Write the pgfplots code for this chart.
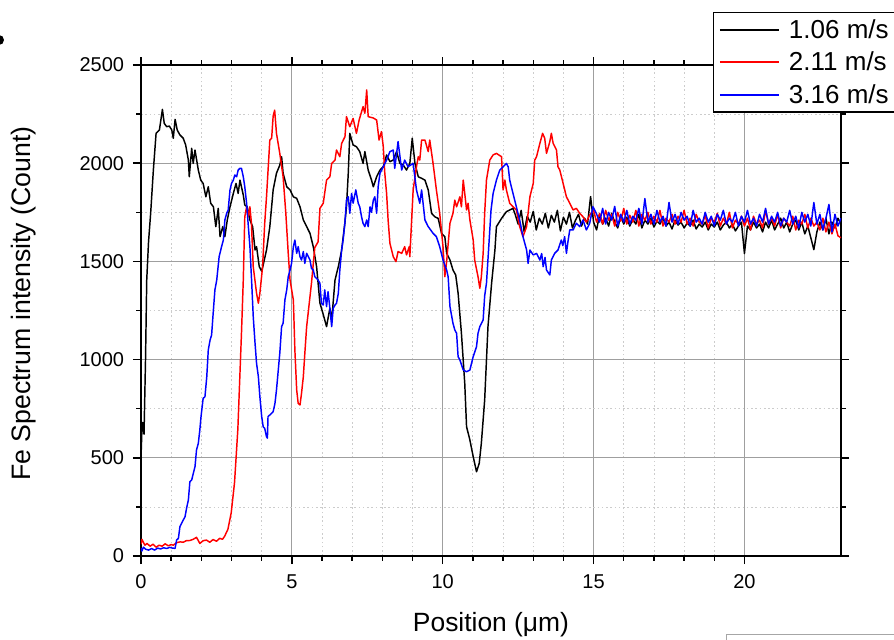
\documentclass[border=0pt]{standalone}
\usepackage{pgfplots}
\pgfplotsset{compat=1.18}
\usepackage{pgfplotstable}
\usepackage{fontspec}
\setmainfont{Liberation Sans}

% Fe line-scan profiles for three scanning speeds
\pgfplotstableread{
x y
0.00 500
0.03 640
0.06 680
0.10 620
0.15 1000
0.19 1405
0.25 1600
0.32 1745
0.41 1965
0.50 2152
0.61 2169
0.71 2274
0.77 2203
0.85 2186
0.94 2189
1.02 2169
1.07 2127
1.13 2223
1.20 2169
1.29 2144
1.40 2127
1.48 2093
1.57 2016
1.60 1931
1.68 2076
1.73 1999
1.79 2067
1.90 1965
1.98 1914
2.06 1897
2.15 1829
2.23 1880
2.31 1796
2.40 1778
2.48 1677
2.56 1770
2.62 1626
2.71 1677
2.78 1626
2.86 1711
2.95 1778
3.06 1846
3.15 1897
3.22 1846
3.28 1914
3.39 1838
3.44 1787
3.52 1778
3.61 1711
3.70 1677
3.78 1558
3.83 1575
3.92 1473
4.00 1450
4.05 1482
4.16 1558
4.27 1677
4.38 1864
4.49 1949
4.60 1990
4.66 2033
4.71 1949
4.83 1880
4.94 1864
5.05 1829
5.16 1821
5.27 1778
5.38 1711
5.49 1677
5.60 1643
5.71 1575
5.82 1473
5.93 1288
6.04 1230
6.15 1168
6.26 1262
6.32 1200
6.43 1405
6.55 1480
6.65 1558
6.76 1700
6.81 1778
6.87 1950
6.92 2152
7.03 2093
7.14 2084
7.25 2059
7.36 1999
7.42 2059
7.53 1965
7.64 1914
7.70 1880
7.81 1931
7.92 1965
8.03 1982
8.14 2042
8.25 2008
8.36 2016
8.47 2059
8.58 1999
8.69 1991
8.80 1965
8.91 1999
8.99 2127
9.08 1999
9.19 1931
9.30 1923
9.41 1914
9.52 1864
9.63 1745
9.74 1727
9.85 1719
9.96 1643
10.07 1626
10.13 1541
10.24 1507
10.34 1456
10.43 1431
10.51 1338
10.62 1134
10.73 879
10.79 658
10.90 591
11.01 506
11.12 429
11.21 472
11.28 574
11.39 794
11.50 1168
11.62 1389
11.73 1558
11.78 1677
11.95 1719
12.11 1753
12.33 1770
12.4 1740
12.5 1690
12.6 1760
12.7 1650
12.8 1730
12.9 1700
13.0 1755
13.1 1660
13.2 1720
13.3 1690
13.4 1745
13.5 1670
13.6 1735
13.7 1700
13.8 1760
13.9 1655
14.0 1725
14.1 1690
14.2 1750
14.3 1670
14.4 1710
14.5 1740
14.6 1680
14.7 1720
14.8 1690
14.9 1830
15.0 1700
15.1 1660
15.2 1740
15.3 1690
15.4 1720
15.5 1680
15.6 1745
15.7 1700
15.8 1670
15.9 1730
16.0 1690
16.1 1725
16.2 1680
16.3 1715
16.4 1690
16.5 1740
16.6 1670
16.7 1710
16.8 1690
16.9 1720
17.0 1675
17.1 1705
17.2 1690
17.3 1720
17.4 1680
17.5 1700
17.6 1665
17.7 1710
17.8 1685
17.9 1700
18.0 1670
18.1 1695
18.2 1680
18.3 1710
18.4 1665
18.5 1690
18.6 1675
18.7 1700
18.8 1660
18.9 1690
19.0 1675
19.1 1700
19.2 1660
19.3 1685
19.4 1700
19.5 1670
19.6 1690
19.7 1655
19.8 1680
19.9 1700
20.0 1540
20.1 1680
20.2 1660
20.3 1700
20.4 1670
20.5 1690
20.6 1650
20.7 1700
20.8 1670
20.9 1710
21.0 1660
21.1 1690
21.2 1720
21.3 1670
21.4 1700
21.5 1650
21.6 1690
21.7 1710
21.8 1660
21.9 1700
22.0 1640
22.1 1680
22.2 1620
22.3 1560
22.4 1650
22.5 1700
22.6 1660
22.7 1720
22.8 1640
22.9 1700
23.0 1670
23.1 1720
23.2 1690
}\speedA

\pgfplotstableread{
x y
0.00 60
0.03 85
0.08 70
0.13 55
0.20 64
0.30 50
0.40 60
0.50 45
0.60 55
0.70 50
0.80 62
0.90 52
1.00 58
1.07 55
1.18 68
1.30 72
1.40 70
1.50 78
1.62 79
1.73 85
1.84 95
1.95 64
2.06 78
2.17 81
2.28 70
2.39 84
2.50 75
2.61 90
2.70 85
2.77 100
2.88 136
2.99 220
3.10 374
3.21 645
3.33 1134
3.39 1405
3.44 1727
3.50 1778
3.55 1727
3.61 1778
3.66 1694
3.72 1473
3.83 1338
3.89 1287
3.94 1338
4.03 1473
4.10 1694
4.16 1829
4.27 2118
4.33 2127
4.38 2240
4.43 2270
4.49 2152
4.60 2050
4.71 1931
4.80 1745
4.88 1541
4.94 1405
5.05 1303
5.10 1049
5.16 845
5.21 777
5.27 769
5.32 828
5.38 913
5.43 1032
5.49 1168
5.54 1236
5.65 1389
5.76 1570
5.87 1600
5.93 1770
6.04 1796
6.15 1914
6.26 1931
6.32 1999
6.43 2016
6.48 2067
6.59 2033
6.65 2101
6.76 2135
6.81 2237
6.92 2186
7.03 2228
7.14 2152
7.23 2220
7.36 2288
7.42 2254
7.48 2373
7.53 2237
7.70 2230
7.81 2220
7.89 2118
7.97 2161
8.03 2084
8.08 1949
8.14 1846
8.19 1711
8.25 1592
8.36 1524
8.45 1499
8.52 1550
8.64 1541
8.74 1575
8.80 1533
8.89 1575
8.91 1524
8.97 1711
9.02 1864
9.13 1982
9.19 2033
9.24 2016
9.30 2118
9.41 2118
9.52 2059
9.57 2118
9.68 1999
9.79 1864
9.90 1745
10.01 1575
10.07 1422
10.13 1500
10.24 1694
10.34 1745
10.40 1812
10.46 1778
10.57 1829
10.62 1778
10.68 1914
10.73 1846
10.79 1762
10.84 1796
10.90 1711
11.01 1609
11.06 1507
11.17 1422
11.23 1363
11.28 1422
11.34 1541
11.39 1745
11.45 1914
11.56 2016
11.67 2042
11.78 2050
11.95 2033
12.00 1864
12.06 1914
12.11 1864
12.22 1796
12.33 1778
12.44 1762
12.55 1677
12.66 1626
12.78 1677
12.89 1829
13.00 1897
13.05 2016
13.11 2033
13.22 2101
13.31 2152
13.38 2127
13.44 2050
13.55 2110
13.60 2152
13.66 2101
13.77 2067
13.82 1982
13.88 1965
13.99 1897
14.10 1829
14.21 1796
14.32 1762
14.43 1770
14.54 1745
14.65 1727
14.76 1700
14.87 1736
15.0 1760
15.1 1700
15.2 1745
15.3 1690
15.4 1760
15.5 1710
15.6 1740
15.7 1680
15.8 1750
15.9 1705
16.0 1770
16.1 1690
16.2 1735
16.3 1700
16.4 1760
16.5 1680
16.6 1740
16.7 1710
16.8 1750
16.9 1690
17.0 1730
17.1 1700
17.2 1760
17.3 1680
17.4 1720
17.5 1700
17.6 1740
17.7 1690
17.8 1730
17.9 1700
18.0 1760
18.1 1690
18.2 1720
18.3 1680
18.4 1740
18.5 1700
18.6 1690
18.7 1735
18.8 1670
18.9 1720
19.0 1700
19.1 1745
19.2 1680
19.3 1720
19.4 1690
19.5 1750
19.6 1670
19.7 1710
19.8 1690
19.9 1730
20.0 1680
20.1 1720
20.2 1660
20.3 1730
20.4 1690
20.5 1710
20.6 1670
20.7 1760
20.8 1690
20.9 1720
21.0 1680
21.1 1740
21.2 1670
21.3 1720
21.4 1700
21.5 1680
21.6 1730
21.7 1660
21.8 1710
21.9 1690
22.0 1740
22.1 1670
22.2 1720
22.3 1680
22.4 1700
22.5 1660
22.6 1720
22.7 1650
22.8 1700
22.9 1640
23.0 1690
23.1 1630
23.2 1620
}\speedB

\pgfplotstableread{
x y
0.00 40
0.03 25
0.08 45
0.15 35
0.25 30
0.35 38
0.45 30
0.55 40
0.65 36
0.75 42
0.85 38
0.95 44
1.05 40
1.13 39
1.18 81
1.24 90
1.29 149
1.40 183
1.46 200
1.51 243
1.57 285
1.62 378
1.68 387
1.79 455
1.84 540
1.90 574
1.95 642
1.99 710
2.06 803
2.12 811
2.18 913
2.23 1049
2.29 1100
2.34 1125
2.40 1253
2.45 1355
2.51 1405
2.59 1524
2.67 1575
2.73 1609
2.78 1711
2.84 1745
2.89 1762
2.95 1864
3.00 1897
3.06 1914
3.11 1940
3.17 1931
3.22 1965
3.28 1974
3.33 1974
3.39 1931
3.44 1880
3.50 1796
3.55 1694
3.61 1575
3.67 1389
3.72 1219
3.78 1083
3.83 981
3.89 913
3.94 811
4.00 710
4.05 658
4.10 650
4.16 607
4.19 600
4.21 710
4.27 718
4.38 735
4.44 777
4.49 845
4.55 947
4.60 1032
4.66 1168
4.71 1185
4.77 1304
4.83 1355
4.88 1422
4.94 1456
4.99 1490
5.05 1575
5.10 1609
5.16 1541
5.21 1575
5.27 1524
5.32 1507
5.38 1550
5.43 1490
5.49 1541
5.60 1507
5.65 1465
5.71 1456
5.76 1422
5.87 1405
5.93 1389
5.98 1287
6.04 1278
6.09 1355
6.15 1270
6.20 1346
6.26 1261
6.32 1168
6.37 1261
6.43 1278
6.48 1287
6.54 1338
6.59 1456
6.65 1558
6.70 1610
6.76 1700
6.81 1812
6.87 1829
6.92 1745
6.98 1846
7.03 1796
7.12 1864
7.20 1796
7.25 1778
7.31 1727
7.36 1694
7.42 1677
7.48 1711
7.53 1677
7.59 1778
7.64 1750
7.70 1812
7.75 1829
7.81 1745
7.86 1880
7.92 1949
8.03 1982
8.14 2016
8.25 2059
8.36 2067
8.41 1974
8.52 2110
8.64 1965
8.74 2016
8.85 1982
9.02 1999
9.13 1864
9.24 1796
9.30 1864
9.41 1711
9.52 1677
9.68 1643
9.79 1626
9.90 1575
10.01 1507
10.13 1456
10.18 1422
10.24 1270
10.34 1185
10.40 1151
10.46 1134
10.51 1015
10.57 998
10.68 947
10.79 938
10.90 947
11.01 1015
11.12 1066
11.17 1134
11.23 1168
11.34 1202
11.39 1324
11.45 1389
11.52 1560
11.60 1760
11.67 1846
11.78 1914
11.89 1965
12.00 1982
12.11 1999
12.17 1982
12.22 1914
12.33 1846
12.44 1778
12.55 1711
12.66 1626
12.78 1558
12.83 1490
12.89 1558
13.00 1533
13.11 1541
13.22 1507
13.28 1540
13.33 1473
13.39 1520
13.44 1456
13.55 1431
13.60 1507
13.71 1541
13.82 1558
13.93 1609
13.98 1580
14.04 1626
14.10 1541
14.15 1600
14.21 1660
14.32 1660
14.43 1694
14.54 1677
14.65 1711
14.76 1660
14.87 1694
14.98 1778
15.09 1745
15.2 1700
15.3 1770
15.4 1690
15.5 1750
15.6 1710
15.7 1780
15.8 1680
15.9 1740
16.0 1700
16.1 1760
16.2 1690
16.3 1730
16.4 1710
16.5 1770
16.6 1690
16.7 1820
16.8 1700
16.9 1740
17.0 1690
17.1 1760
17.2 1700
17.3 1730
17.4 1680
17.5 1800
17.6 1700
17.7 1740
17.8 1690
17.9 1750
18.0 1710
18.1 1730
18.2 1680
18.3 1760
18.4 1700
18.5 1720
18.6 1690
18.7 1750
18.8 1700
18.9 1730
19.0 1680
19.1 1740
19.2 1710
19.3 1760
19.4 1690
19.5 1720
19.6 1700
19.7 1750
19.8 1680
19.9 1730
20.0 1700
20.1 1760
20.2 1690
20.3 1720
20.4 1680
20.5 1740
20.6 1700
20.7 1770
20.8 1690
20.9 1730
21.0 1700
21.1 1750
21.2 1680
21.3 1720
21.4 1700
21.5 1760
21.6 1690
21.7 1730
21.8 1670
21.9 1750
22.0 1700
22.1 1740
22.2 1680
22.3 1800
22.4 1690
22.5 1740
22.6 1660
22.7 1720
22.8 1790
22.9 1650
23.0 1740
23.1 1680
23.2 1720
}\speedC

\begin{document}
\begin{tikzpicture}[x=0.75pt,y=0.75pt]
% page frame (units: 0.75pt)
\useasboundingbox (-141,-84) rectangle (753,556);
\begin{axis}[
  at={(0,0)}, anchor=south west,
  scale only axis,
  width=525pt, height=368.25pt,
  xmin=0, xmax=23.2,
  ymin=0, ymax=2500,
  xtick={0,5,10,15,20},
  ytick={0,500,1000,1500,2000,2500},
  minor x tick num=4,
  minor y tick num=1,
  tick align=outside,
  major tick length=6pt,
  minor tick length=3.5pt,
  tick style={black, line width=1.1pt},
  axis line style={black, line width=1.5pt},
  grid=both,
  major grid style={gray!75, line width=0.7pt, solid},
  minor grid style={gray!40, line width=0.6pt, dash pattern=on 1.2pt off 2pt},
  /pgf/number format/assume math mode=true,
  /pgf/number format/set thousands separator={},
  tick label style={font=\fontsize{15}{18}\selectfont},
  xticklabel style={yshift=-4.5pt},
  yticklabel style={xshift=-3.2pt},
  xlabel={Position (μm)},
  ylabel={Fe Spectrum intensity (Count)},
  xlabel style={font=\fontsize{19.8}{23}\selectfont,
    at={(axis description cs:0.5,-0.14)}, anchor=center},
  ylabel style={font=\fontsize{20}{23}\selectfont,
    at={(axis description cs:-0.167,0.514)}, anchor=center},
  legend cell align=left,
  legend style={
    at={(0.817,1.108)}, anchor=north west,
    line width=1.1pt, fill=white,
    font=\fontsize{19.5}{22}\selectfont,
    inner xsep=4pt, inner ysep=3.2pt,
    row sep=4.6pt,
    /tikz/every odd column/.append style={column sep=5.2pt},
  },
  legend image code/.code={\draw[#1, line width=1.3pt] (0pt,0pt) -- (44pt,0pt);},
  every axis plot/.append style={line width=1.1pt, line join=round},
]
\addplot[color=black] table[x=x,y=y] {\speedA};
\addlegendentry{1.06 m/s}
\addplot[color=red] table[x=x,y=y] {\speedB};
\addlegendentry{2.11 m/s}
\addplot[color=blue] table[x=x,y=y] {\speedC};
\addlegendentry{3.16 m/s}
\end{axis}
% partial elements at the page border
\fill[black] (-142,516) circle (5);
\draw[gray!70, line width=0.75pt] (585,-78) rectangle (900,-150);
\end{tikzpicture}
\end{document}
